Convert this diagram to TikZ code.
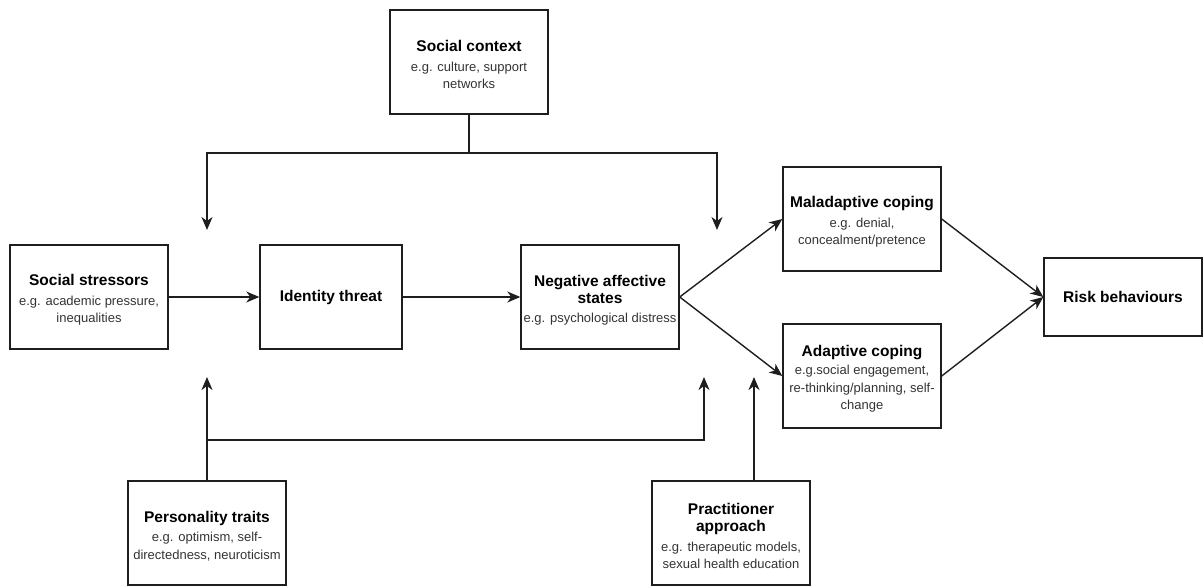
\documentclass[tikz,border=0pt]{standalone}
\usepackage{fontspec}
\setmainfont{Liberation Sans}
\usetikzlibrary{arrows.meta}
\definecolor{edge}{HTML}{1E1E1E}
\definecolor{subtxt}{HTML}{333333}
\newcommand\ttl[1]{{\fontsize{15.5}{18}\selectfont\bfseries\color{black}#1}}
\newcommand\ttlA[1]{{\fontsize{15.5}{18}\selectfont\bfseries\color{black}\rule{0pt}{17pt}#1}}
\begin{document}
\begin{tikzpicture}[x=1pt,y=-1pt,
  box/.style={draw=edge, line width=1.4pt, minimum width=158pt, minimum height=104pt,
    align=center, inner sep=1pt, text=subtxt, font=\fontsize{13}{17.5}\selectfont},
  conn/.style={draw=edge, line width=1.4pt},
  arr/.style={conn, -{Stealth[length=13pt,width=11pt,inset=4pt]}}]
\useasboundingbox (0,0) rectangle (1203,586);

\node[box] (ss) at (89,297)
  {\ttlA{Social stressors}\\[2pt] e.g. academic pressure,\\ inequalities};
\node[box, minimum width=142pt] (it) at (331,297)
  {\ttl{Identity threat}};
\node[box] (neg) at (600,297)
  {\ttlA{Negative affective}\\ \ttl{states}\\[1pt] e.g. psychological distress};
\node[box] (mal) at (862,219)
  {\ttlA{Maladaptive coping}\\[2pt] e.g. denial,\\ concealment/pretence};
\node[box] (ada) at (862,376)
  {\ttlA{Adaptive coping}\\[1pt] e.g.social engagement,\\ re-thinking/planning, self-\\ change};
\node[box, minimum height=78pt] (risk) at (1123,297)
  {\ttl{Risk behaviours}};
\node[box] (sc) at (469,62)
  {\ttlA{Social context}\\[2pt] e.g. culture, support\\ networks};
\node[box] (pt) at (207,533)
  {\ttlA{Personality traits}\\[2pt] e.g. optimism, self-\\ directedness, neuroticism};
\node[box] (pa) at (731,533)
  {\ttlA{Practitioner}\\ \ttl{approach}\\[2pt] e.g. therapeutic models,\\ sexual health education};

% main chain
\draw[arr] (ss.east) -- (it.west);
\draw[arr] (it.east) -- (neg.west);
\draw[arr] (neg.east) -- (mal.west);
\draw[arr] (neg.east) -- (ada.west);
\draw[arr] (mal.east) -- (risk.west);
\draw[arr] (ada.east) -- (risk.west);

% social context moderation
\coordinate (j1) at (469,153);
\coordinate (t1) at (207,230);
\coordinate (t2) at (717,230);
\draw[conn] (sc.south) -- (j1);
\draw[arr] (j1) -| (t1);
\draw[arr] (j1) -| (t2);

% personality traits moderation
\coordinate (j2) at (207,440);
\coordinate (t3) at (207,377);
\coordinate (t4) at (704,377);
\draw[arr] (pt.north) -- (t3);
\draw[arr] (j2) -| (t4);

% practitioner approach
\coordinate (pas) at (754,481);
\coordinate (t5) at (754,377);
\draw[arr] (pas) -- (t5);
\end{tikzpicture}
\end{document}
